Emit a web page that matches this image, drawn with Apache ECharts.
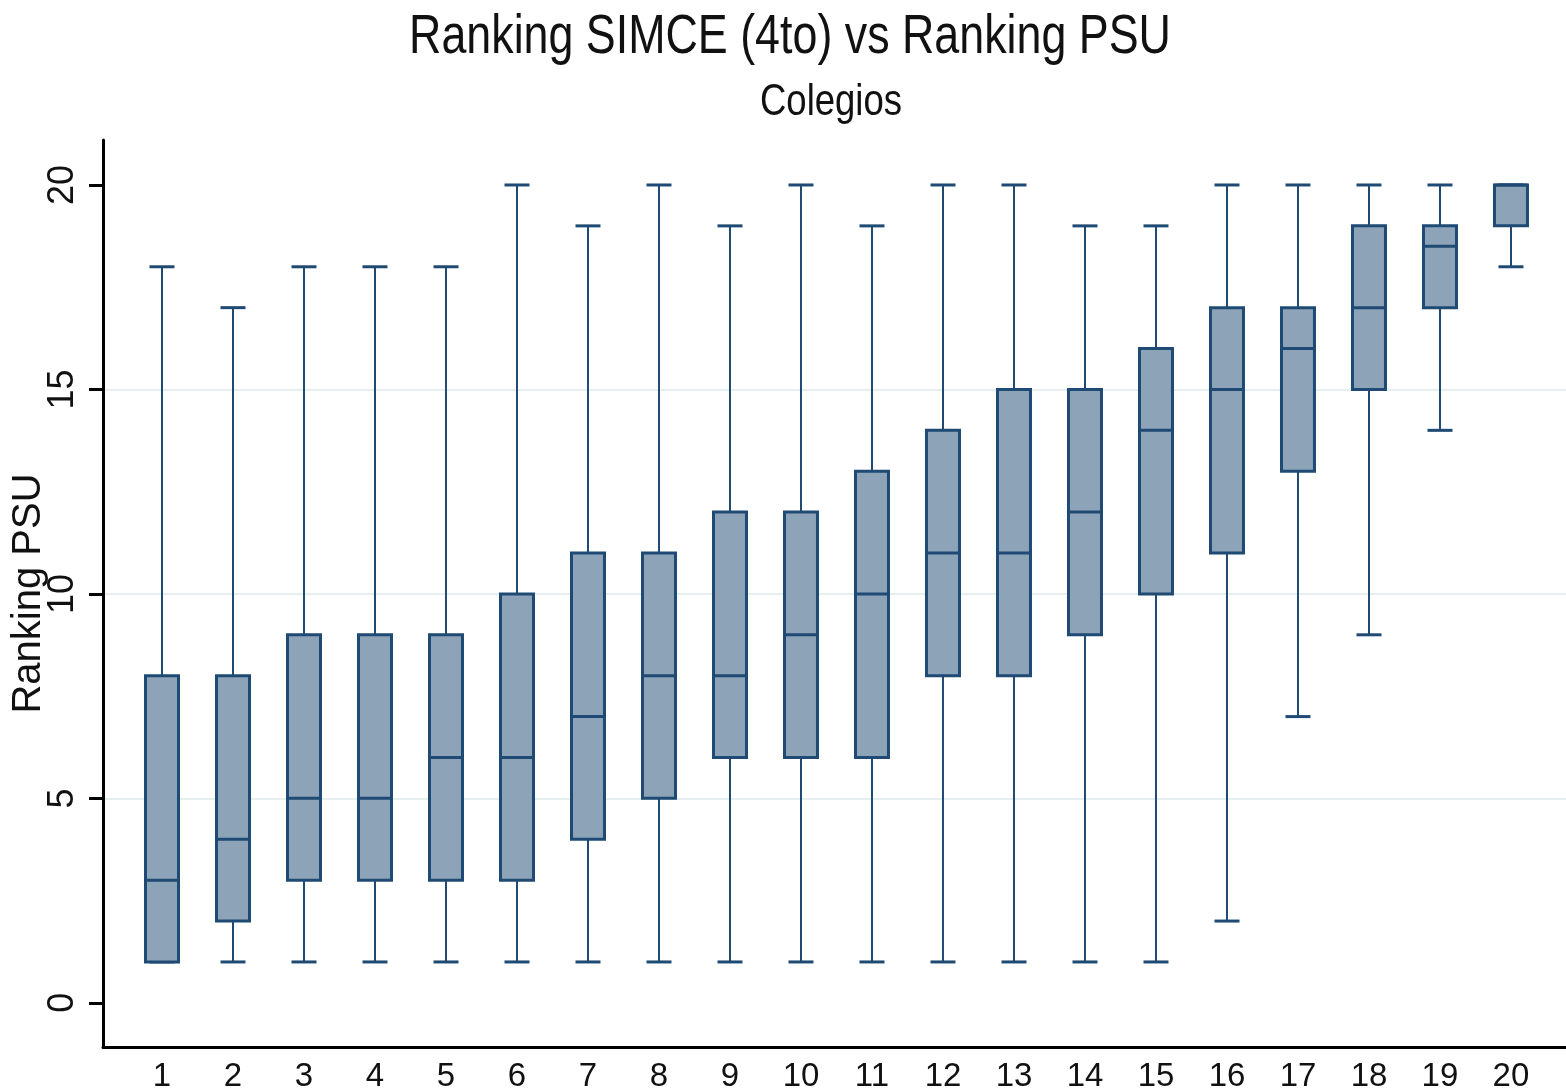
<!DOCTYPE html>
<html>
<head>
<meta charset="utf-8">
<title>Ranking SIMCE vs Ranking PSU</title>
<script src="https://cdn.jsdelivr.net/npm/echarts@6/dist/echarts.min.js"></script>
<style>
  html, body { margin: 0; padding: 0; background: #fff; }
  #chart { width: 1566px; height: 1092px; }
</style>
</head>
<body>
<div id="chart"></div>
<script>
// ranking SIMCE (x) -> distribution of ranking PSU (box stats)
const ranks = [1, 2, 3, 4, 5, 6, 7, 8, 9, 10, 11, 12, 13, 14, 15, 16, 17, 18, 19, 20]
const mins = [1, 1, 1, 1, 1, 1, 1, 1, 1, 1, 1, 1, 1, 1, 1, 2, 7, 9, 14, 18]
const q1s = [1, 2, 3, 3, 3, 3, 4, 5, 6, 6, 6, 8, 8, 9, 10, 11, 13, 15, 17, 19]
const medians = [3, 4, 5, 5, 6, 6, 7, 8, 8, 9, 10, 11, 11, 12, 14, 15, 16, 17, 18.5, 20]
const q3s = [8, 8, 9, 9, 9, 10, 11, 11, 12, 12, 13, 14, 15, 15, 16, 17, 17, 19, 19, 20]
const maxs = [18, 17, 18, 18, 18, 20, 19, 20, 19, 20, 19, 20, 20, 19, 19, 20, 20, 20, 20, 20]
const yTicks = [0, 5, 10, 15, 20]

const navy = '#1f4a73'
const boxFill = '#8ca3b8'
const font = '"Liberation Sans", Arial, sans-serif'

const rows = ranks.map((r, i) => [r, mins[i], q1s[i], medians[i], q3s[i], maxs[i]])

function renderBox(params, api) {
  const x = api.value(0)
  const lo = api.coord([x, api.value(1)])
  const q1 = api.coord([x, api.value(2)])
  const md = api.coord([x, api.value(3)])
  const q3 = api.coord([x, api.value(4)])
  const hi = api.coord([x, api.value(5)])
  const cx = lo[0]
  const half = 16.5
  const cap = 12.5
  const wStyle = { stroke: navy, lineWidth: 2 }
  const capStyle = { stroke: navy, lineWidth: 3 }
  return {
    type: 'group',
    children: [
      { type: 'line', shape: { x1: cx, y1: hi[1], x2: cx, y2: q3[1] }, style: wStyle },
      { type: 'line', shape: { x1: cx, y1: lo[1], x2: cx, y2: q1[1] }, style: wStyle },
      { type: 'line', shape: { x1: cx - cap, y1: hi[1], x2: cx + cap, y2: hi[1] }, style: capStyle },
      { type: 'line', shape: { x1: cx - cap, y1: lo[1], x2: cx + cap, y2: lo[1] }, style: capStyle },
      {
        type: 'rect',
        shape: { x: cx - half, y: q3[1], width: half * 2, height: q1[1] - q3[1] },
        style: { fill: boxFill, stroke: navy, lineWidth: 3 }
      },
      { type: 'line', shape: { x1: cx - half, y1: md[1], x2: cx + half, y2: md[1] }, style: { stroke: navy, lineWidth: 3 } }
    ]
  }
}

const chart = echarts.init(document.getElementById('chart'))
chart.setOption({
  backgroundColor: '#fff',
  animation: false,
  // titles are squeezed horizontally like the original (narrow face)
  graphic: [
    {
      type: 'text',
      x: 790,
      y: 38,
      scaleX: 0.8,
      style: {
        text: 'Ranking SIMCE (4to) vs Ranking PSU',
        align: 'center',
        verticalAlign: 'middle',
        font: '56px ' + font,
        fill: '#111'
      }
    },
    {
      type: 'text',
      x: 831,
      y: 103,
      scaleX: 0.83,
      style: {
        text: 'Colegios',
        align: 'center',
        verticalAlign: 'middle',
        font: '44px ' + font,
        fill: '#111'
      }
    }
  ],
  grid: { left: 103, right: 0, top: 140, bottom: 45, containLabel: false, outerBoundsMode: 'none' },
  xAxis: {
    type: 'value',
    min: 0.169,
    max: 20.775,
    axisLine: { show: true, onZero: false, lineStyle: { color: '#000', width: 3 } },
    axisTick: { show: false },
    splitLine: { show: false },
    axisLabel: {
      customValues: ranks,
      margin: 13,
      fontFamily: font,
      fontSize: 33,
      color: '#111'
    }
  },
  yAxis: {
    type: 'value',
    min: -1.08,
    max: 21.1,
    name: 'Ranking PSU',
    nameLocation: 'middle',
    nameGap: 54,
    nameMoveOverlap: false,
    nameTextStyle: { fontFamily: font, fontSize: 40, color: '#111' },
    axisLine: { show: true, onZero: false, lineStyle: { color: '#000', width: 3 } },
    axisTick: { show: true, customValues: yTicks, length: 14, lineStyle: { color: '#000', width: 3 } },
    axisLabel: {
      customValues: yTicks,
      rotate: 90,
      margin: 22,
      fontFamily: font,
      fontSize: 36,
      color: '#111'
    },
    splitLine: {
      show: true,
      showMinLine: false,
      showMaxLine: false,
      lineStyle: { color: '#e6eff0', width: 2 }
    }
  },
  series: [
    {
      type: 'custom',
      renderItem: renderBox,
      encode: { x: 0, y: [1, 2, 3, 4, 5] },
      data: rows,
      z: 3
    }
  ]
})
</script>
</body>
</html>
